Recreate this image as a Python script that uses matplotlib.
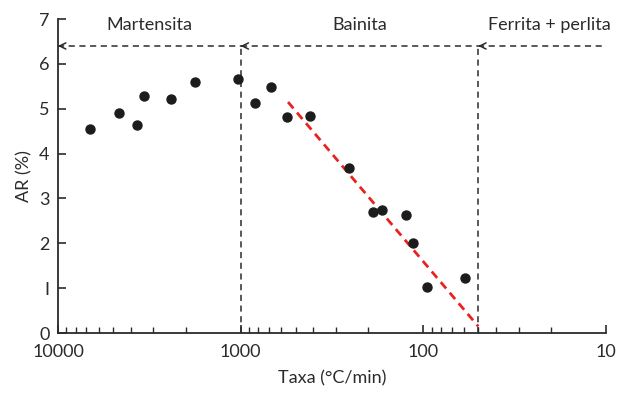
import matplotlib.pyplot as plt
from matplotlib.ticker import FixedLocator, LogLocator, NullFormatter

plt.rcParams['font.family'] = ['Lato', 'DejaVu Sans']

# data
taxa = [6700, 4630, 3690, 3390, 2410, 1775, 1030, 833, 681, 560, 415,
        254, 189, 168, 124, 114, 95, 59]
ar = [4.55, 4.90, 4.63, 5.29, 5.21, 5.60, 5.67, 5.13, 5.49, 4.81, 4.85,
      3.68, 2.69, 2.75, 2.64, 2.00, 1.03, 1.22]

trend_x = [550, 50]
trend_y = [5.15, 0.15]

limits = [10000, 1000, 50, 10]   # phase boundaries (x)
arrow_y = 6.4
phases = ['Martensita', 'Bainita', 'Ferrita + perlita']
phase_x = [3145, 222, 20.5]

xticks = [10000, 1000, 100, 10]
xticklabels = ['10000', '1000', '100', '10']
yticks = [0, 1, 2, 3, 4, 5, 6, 7]
yticklabels = ['0', 'I', '2', '3', '4', '5', '6', '7']

ink = '#2b2b2b'

fig = plt.figure(figsize=(6.17, 3.97), dpi=100)
ax = fig.add_axes([0.094, 0.161, 0.888, 0.791])

ax.set_xscale('log')
ax.set_xlim(10000, 10)
ax.set_ylim(0, 7)

# vertical boundaries
for xv in limits[1:3]:
    ax.plot([xv, xv], [0, arrow_y], ls=(0, (4, 3)), color=ink, lw=1.1)

# horizontal arrows
for i in range(3):
    x_tail = limits[i + 1]
    x_head = limits[i]
    ax.plot([x_head, x_tail], [arrow_y, arrow_y], ls=(0, (4, 3)), color=ink, lw=1.1,
            clip_on=False)
    ax.annotate('', xy=(x_head, arrow_y), xytext=(x_head * 0.97, arrow_y),
                arrowprops=dict(arrowstyle='->', color=ink, lw=1.1,
                                shrinkA=0, shrinkB=0, mutation_scale=11),
                annotation_clip=False)
    ax.text(phase_x[i], 6.86, phases[i], ha='center', va='center',
            fontsize=13, color=ink)

ax.plot(trend_x, trend_y, ls=(0, (3, 2)), color='#e8231f', lw=2)
ax.scatter(taxa, ar, s=42, color='#1c1c1c', zorder=3)

ax.xaxis.set_major_locator(FixedLocator(xticks))
ax.set_xticklabels(xticklabels)
ax.xaxis.set_minor_locator(LogLocator(base=10, subs=range(2, 10)))
ax.xaxis.set_minor_formatter(NullFormatter())
ax.set_yticks(yticks)
ax.set_yticklabels(yticklabels)

ax.tick_params(axis='both', which='major', direction='in', length=6, width=1.2,
               colors=ink, labelsize=13)
ax.tick_params(axis='x', which='minor', direction='in', length=4, width=1, colors=ink)
ax.tick_params(axis='x', pad=8)
ax.tick_params(axis='y', pad=6)

for side in ['top', 'right']:
    ax.spines[side].set_visible(False)
for side in ['left', 'bottom']:
    ax.spines[side].set_color(ink)
    ax.spines[side].set_linewidth(1.3)

ax.set_xlabel('Taxa (°C/min)', fontsize=13, color=ink, labelpad=7)
ax.set_ylabel('AR (%)', fontsize=13, color=ink, labelpad=5)

fig.savefig('out.png', dpi=100)
